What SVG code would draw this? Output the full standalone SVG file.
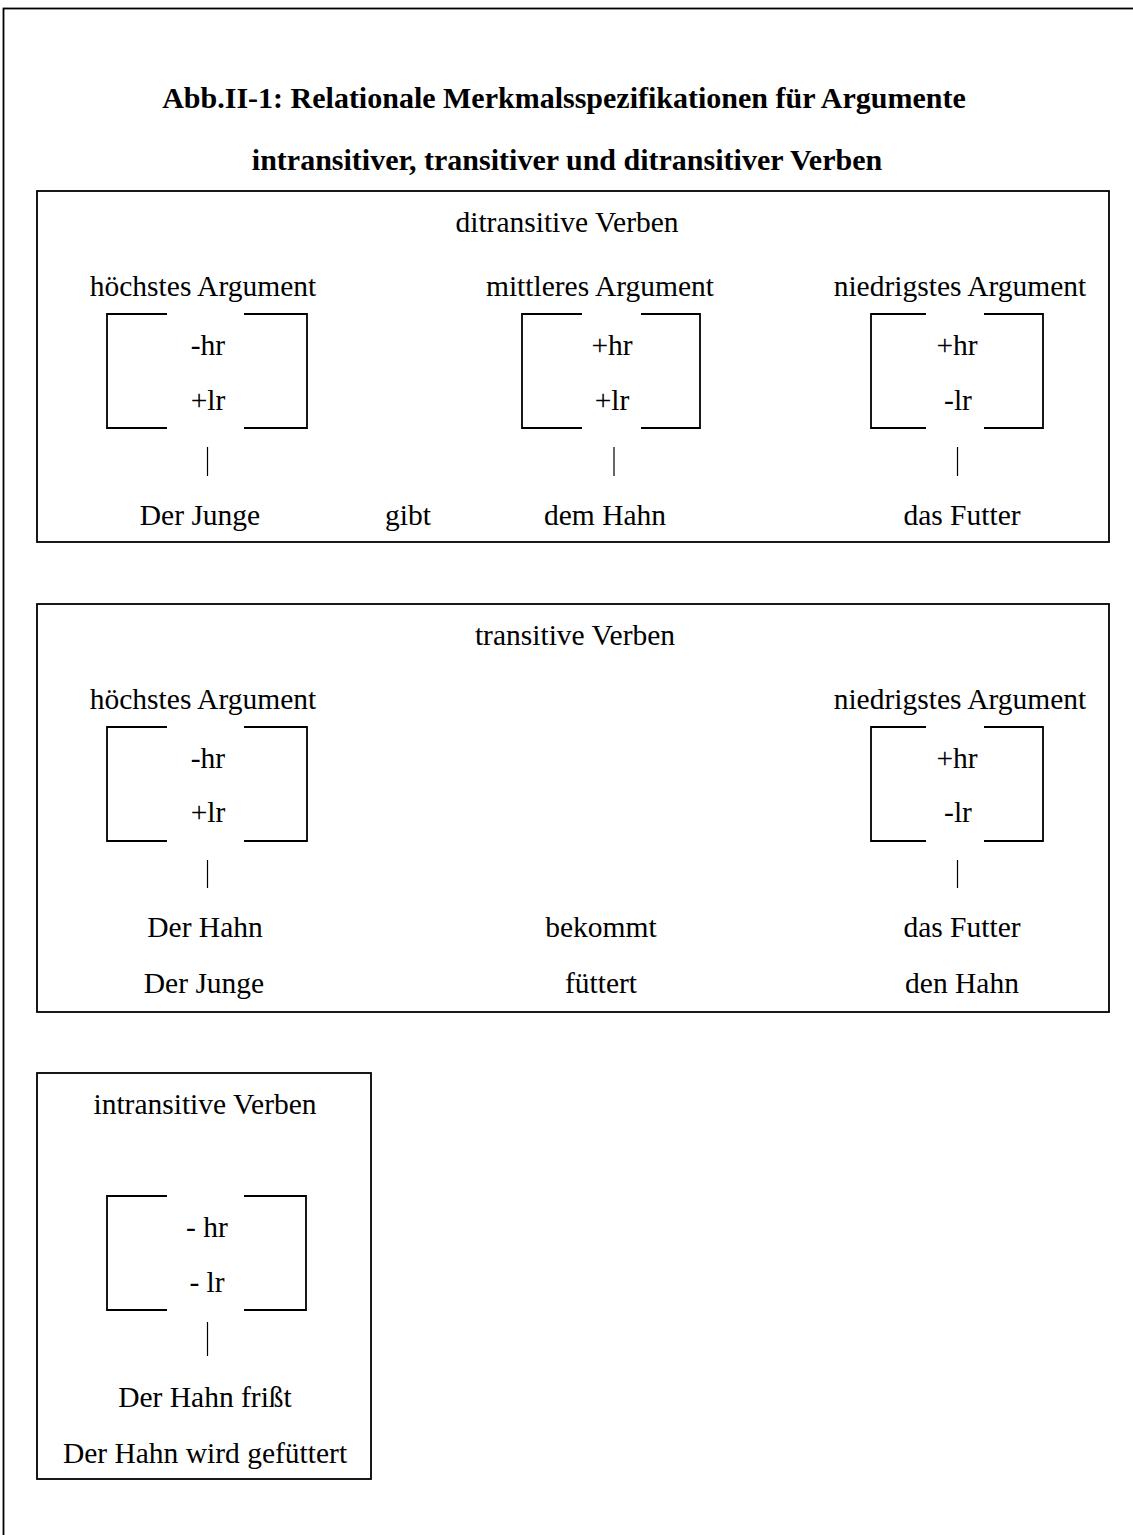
<svg xmlns="http://www.w3.org/2000/svg" width="1133" height="1535" viewBox="0 0 1133 1535">
<style>
text{font-family:"Liberation Serif","Times New Roman",serif;font-size:29.5px;fill:#000;text-anchor:middle}
.title{font-weight:bold;font-size:30px}
.box{fill:none;stroke:#000;stroke-width:1.8}
.br{fill:none;stroke:#000;stroke-width:1.8}
.tick{stroke:#000;stroke-width:1.2}
</style>
<rect x="0" y="0" width="1133" height="1535" fill="#fff"/>
<rect x="3.5" y="8.5" width="1145" height="1545" class="box"/>
<g id="title">
<text class="title" x="564" y="108">Abb.II-1: Relationale Merkmalsspezifikationen für Argumente</text>
<text class="title" x="567" y="170">intransitiver, transitiver und ditransitiver Verben</text>
</g>
<g id="ditransitive">
<rect x="37" y="191" width="1072" height="351" class="box"/>
<text x="567" y="232">ditransitive Verben</text>
<g id="d-hoechst">
<text x="203" y="296">höchstes Argument</text>
<path class="br" d="M167,314H107V428H167M244,314H307V428H244"/>
<text x="208" y="355">-hr</text>
<text x="208" y="410">+lr</text>
<text x="200" y="525">Der Junge</text>
</g>
<text id="d-gibt" x="408" y="525">gibt</text>
<g id="d-mittel">
<text x="600" y="296">mittleres Argument</text>
<path class="br" d="M582,314H522V428H582M641,314H700V428H641"/>
<text x="612" y="355">+hr</text>
<text x="612" y="410">+lr</text>
<text x="605" y="525">dem Hahn</text>
</g>
<g id="d-niedrig">
<text x="960" y="296">niedrigstes Argument</text>
<path class="br" d="M926,314H871V428H926M984,314H1043V428H984"/>
<text x="957" y="355">+hr</text>
<text x="958" y="410">-lr</text>
<text x="962" y="525">das Futter</text>
</g>
</g>
<g id="transitive">
<rect x="37" y="604" width="1072" height="408" class="box"/>
<text x="575" y="645">transitive Verben</text>
<g id="t-hoechst">
<text x="203" y="709">höchstes Argument</text>
<path class="br" d="M167,727H107V841H167M244,727H307V841H244"/>
<text x="208" y="768">-hr</text>
<text x="208" y="822">+lr</text>
<text x="205" y="937">Der Hahn</text>
<text x="204" y="993">Der Junge</text>
</g>
<g id="t-verb">
<text x="601" y="937">bekommt</text>
<text x="601" y="993">füttert</text>
</g>
<g id="t-niedrig">
<text x="960" y="709">niedrigstes Argument</text>
<path class="br" d="M926,727H871V841H926M984,727H1043V841H984"/>
<text x="957" y="768">+hr</text>
<text x="958" y="822">-lr</text>
<text x="962" y="937">das Futter</text>
<text x="962" y="993">den Hahn</text>
</g>
</g>
<g id="intransitive">
<rect x="37" y="1073" width="334" height="406" class="box"/>
<text x="205" y="1114">intransitive Verben</text>
<path class="br" d="M167,1196H107V1310H167M244,1196H306V1310H244"/>
<text x="207" y="1237">- hr</text>
<text x="207" y="1292">- lr</text>
<text x="205" y="1407">Der Hahn frißt</text>
<text x="205" y="1463">Der Hahn wird gefüttert</text>
</g>
<g id="connectors">
<line class="tick" x1="207.5" y1="447" x2="207.5" y2="476"/>
<line class="tick" x1="614" y1="447" x2="614" y2="476"/>
<line class="tick" x1="957.5" y1="447" x2="957.5" y2="476"/>
<line class="tick" x1="207.5" y1="860" x2="207.5" y2="888"/>
<line class="tick" x1="957.5" y1="860" x2="957.5" y2="888"/>
<line class="tick" x1="207.5" y1="1322" x2="207.5" y2="1356"/>
</g>
</svg>
